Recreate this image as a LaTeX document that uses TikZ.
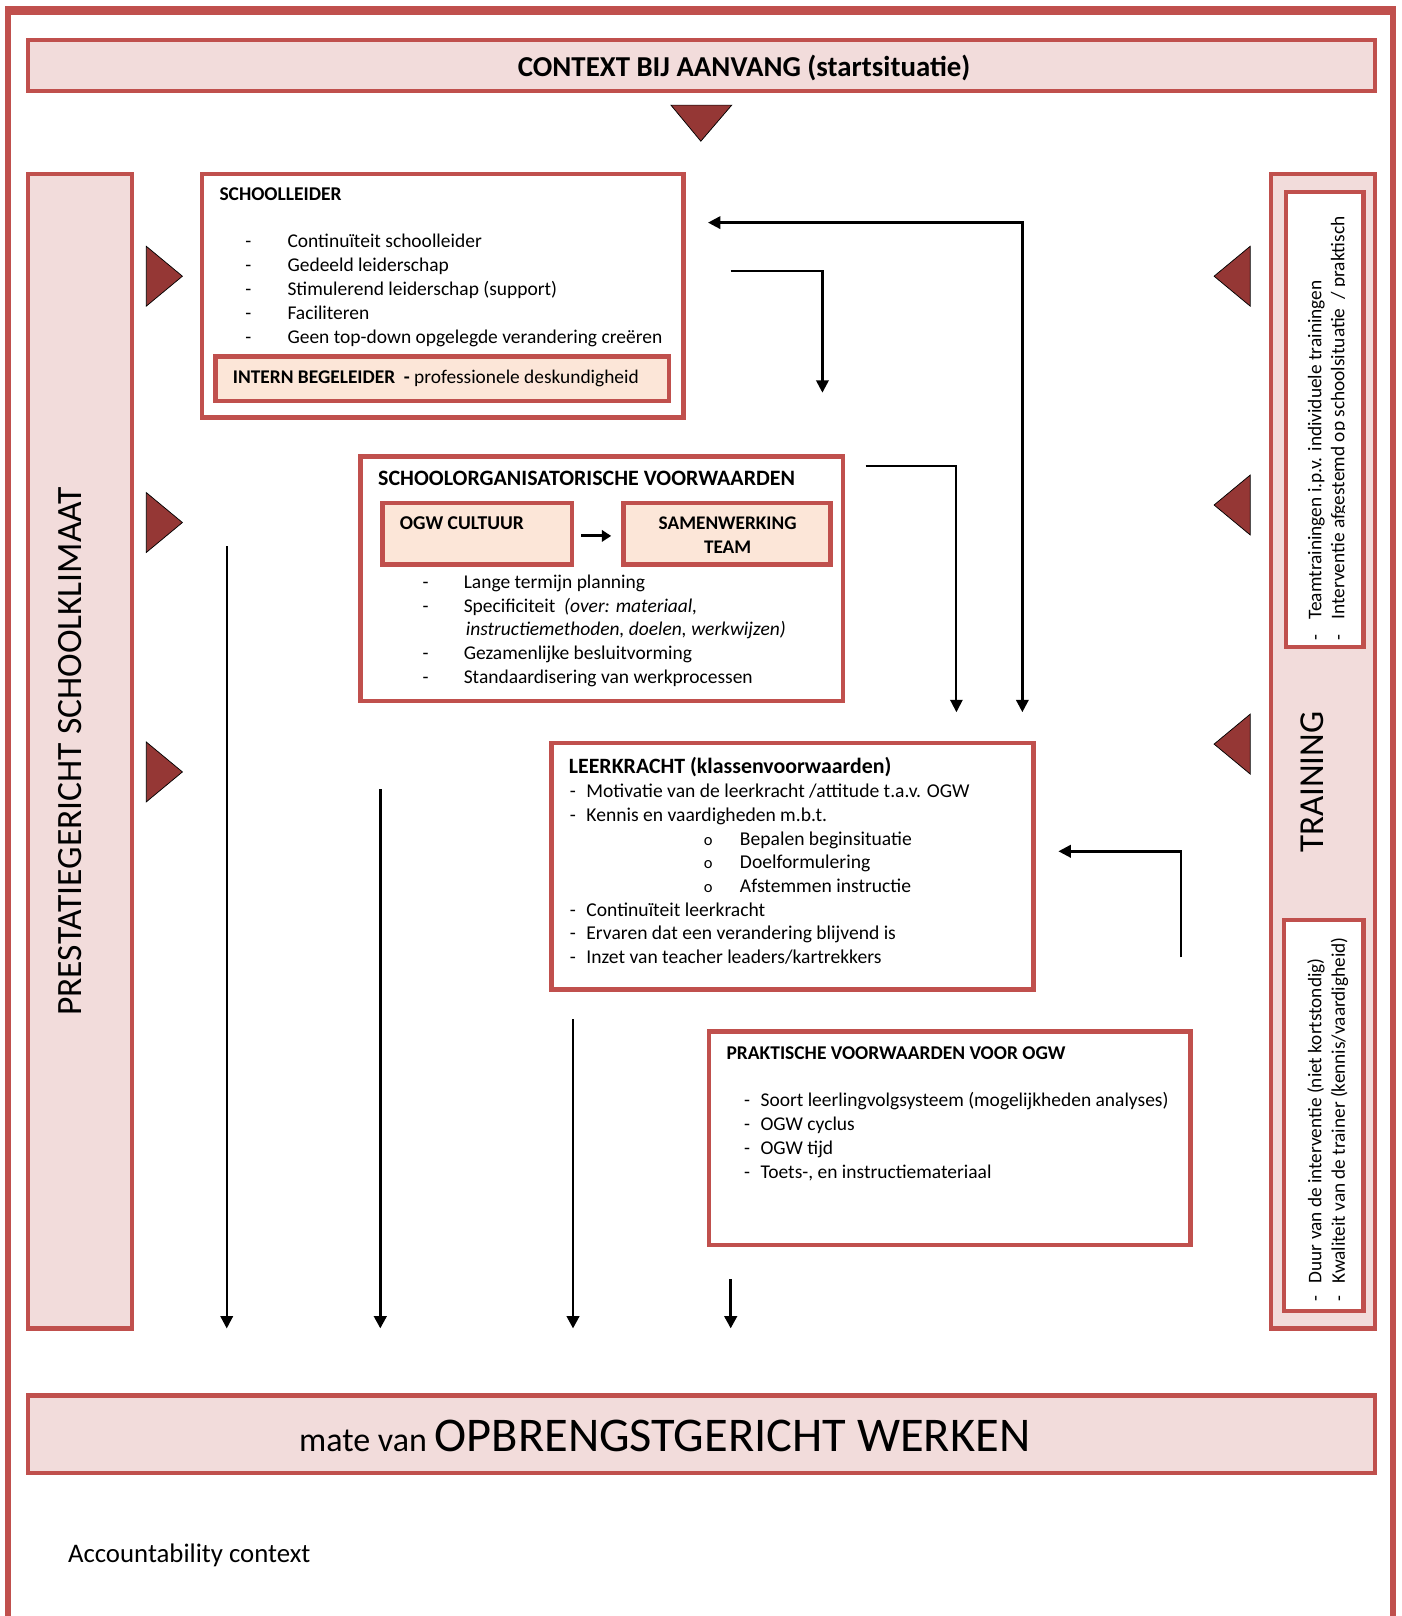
\documentclass[tikz,border=0pt]{standalone}
\usepackage{fontspec}
\setmainfont{Carlito}
\usetikzlibrary{arrows.meta}
\definecolor{bred}{HTML}{C0504D}
\definecolor{bpink}{HTML}{F2DCDB}
\definecolor{bpeach}{HTML}{FCE6D8}
\definecolor{dred}{HTML}{953735}
\newcommand{\fs}[2]{\fontsize{#1}{#2}\selectfont}
\newcommand{\dsh}[1]{\makebox[#1][l]{-}}

\begin{document}
\begin{tikzpicture}[x=1pt,y=-1pt,
  box/.style={draw=bred, line width=4.5pt, inner sep=0pt, outer sep=0pt, anchor=north west},
  whitebox/.style={box, fill=white},
  pinkbox/.style={box, fill=bpink, line width=4pt},
  peachbox/.style={box, fill=bpeach},
  txt/.style={inner sep=0pt, outer sep=0pt, anchor=base west},
  marker/.style={fill=dred, draw=black, line width=0.7pt, line join=miter},
  conn/.style={line width=2.5pt, -{Triangle[length=12pt,width=12pt]}},
]
\useasboundingbox (0,0) rectangle (1360,1568);

% outer frame
\draw[bred, line width=6pt] (8,10) rectangle (1352,1590);
\fill[bred] (5,6) rectangle (1355,15);

% header and footer bands
\node[pinkbox, minimum width=1307pt, minimum height=49pt] (ctx) at (27,39) {};
\node[txt, anchor=base, font=\fs{28}{32}\bfseries] (ctxt) at (722,74) {CONTEXT BIJ AANVANG (startsituatie)};
\draw[marker] (651,102) -- (710,102) -- (680,137) -- cycle;

\node[pinkbox, minimum width=1307pt, minimum height=75pt] (ogw) at (27,1354) {};
\node[txt, anchor=base] (ogwt) at (645,1408) {\fs{33}{36}mate van \fs{47}{50}OPBRENGSTGERICHT WERKEN};

\node[txt, font=\fs{26}{30}] (acc) at (66,1516) {Accountability context};

% side panels
\node[pinkbox, minimum width=101pt, minimum height=1120pt] (klim) at (27,169) {};
\node[txt, anchor=base, rotate=90, font=\fs{34.5}{38}] (klimt) at (79,729) {PRESTATIEGERICHT SCHOOLKLIMAAT};

\node[pinkbox, minimum width=101pt, minimum height=1120pt] (train) at (1233,169) {};
\node[whitebox, line width=4pt, minimum width=75pt, minimum height=442pt] (trtop) at (1248,186) {};
\node[whitebox, line width=4pt, minimum width=77pt, minimum height=379pt] (trbot) at (1246,893) {};
\node[txt, anchor=base, rotate=90, font=\fs{34}{38}] (traint) at (1284,759) {TRAINING};

\begin{scope}
  \clip (1240,206) rectangle (1305,630);
  \node[txt, rotate=90, font=\fs{18.8}{22}] (tr1) at (1282,621) {\dsh{20pt}Teamtrainingen i.p.v. individuele trainingen};
  \node[txt, rotate=90, font=\fs{18.8}{22}] (tr2) at (1304.5,621) {\dsh{20pt}Interventie afgestemd op schoolsituatie\ \ / praktisch};
\end{scope}
\node[txt, rotate=90, font=\fs{18.7}{22}] (tr3) at (1282,1263) {\dsh{18pt}Duur van de interventie (niet kortstondig)};
\node[txt, rotate=90, font=\fs{18.7}{22}] (tr4) at (1305,1263) {\dsh{18pt}Kwaliteit van de trainer (kennis/vaardigheid)};

% side markers
\foreach \yy in {268,507,749}
  \draw[marker] (142,\yy-29) -- (142,\yy+29) -- (177,\yy) -- cycle;
\foreach \yy in {268,490,722}
  \draw[marker] (1213,\yy-29) -- (1213,\yy+29) -- (1178,\yy) -- cycle;

% schoolleider
\node[whitebox, minimum width=467pt, minimum height=236pt] (sl) at (196,169) {};
\node[txt, font=\fs{18.9}{22}\bfseries] (slt) at (213,195) {SCHOOLLEIDER};
\node[txt, font=\fs{18.9}{23.25}] (sli) at (238,240) {\begin{tabular}[t]{@{}l@{}}
\dsh{41pt}Continuïteit schoolleider\\
\dsh{41pt}Gedeeld leiderschap\\
\dsh{41pt}Stimulerend leiderschap (support)\\
\dsh{41pt}Faciliteren\\
\dsh{41pt}Geen top-down opgelegde verandering creëren
\end{tabular}};
\node[peachbox, minimum width=440pt, minimum height=43pt] (ib) at (209,346) {};
\node[txt, font=\fs{18.8}{22}] (ibt) at (226,372) {\textbf{INTERN BEGELEIDER\ \ -} professionele deskundigheid};

% schoolorganisatorische voorwaarden
\node[whitebox, minimum width=468pt, minimum height=237pt] (so) at (350,443) {};
\node[txt, font=\fs{21.3}{25}\bfseries] (sot) at (367,471) {SCHOOLORGANISATORISCHE VOORWAARDEN};
\node[peachbox, minimum width=184pt, minimum height=60pt] (cult) at (371,488) {};
\node[txt, font=\fs{19}{23}\bfseries] (cultt) at (388,514) {OGW CULTUUR};
\node[peachbox, minimum width=201pt, minimum height=60pt] (sam) at (605,488) {};
\node[txt, anchor=base, font=\fs{18.7}{23}\bfseries] (samt) at (706,514) {\begin{tabular}[t]{@{}c@{}}SAMENWERKING\\TEAM\end{tabular}};
\draw[line width=3pt, -{Triangle[length=9pt,width=11pt]}] ([xshift=9pt,yshift=-2pt]cult.east) -- ([xshift=-12pt,yshift=-2pt]sam.west);
\node[txt, font=\fs{18.9}{23}] (soi) at (410,571) {\begin{tabular}[t]{@{}l@{}}
\dsh{40pt}Lange termijn planning\\
\dsh{40pt}Specificiteit\ \ \textit{(over: materiaal,}\\
\hspace{42pt}\textit{instructiemethoden, doelen, werkwijzen)}\\
\dsh{40pt}Gezamenlijke besluitvorming\\
\dsh{40pt}Standaardisering van werkprocessen
\end{tabular}};

% leerkracht
\node[whitebox, minimum width=468pt, minimum height=239pt] (lk) at (535,721) {};
\node[txt, font=\fs{21.2}{25}\bfseries] (lkt) at (552,751) {LEERKRACHT (klassenvoorwaarden)};
\node[txt, font=\fs{19}{23}] (lki) at (553,774) {\begin{tabular}[t]{@{}l@{}}
\dsh{16pt}Motivatie van de leerkracht /attitude t.a.v. OGW\\
\dsh{16pt}Kennis en vaardigheden m.b.t.\\
\hspace{130pt}\makebox[35pt][l]{\fs{16}{23}o}Bepalen beginsituatie\\
\hspace{130pt}\makebox[35pt][l]{\fs{16}{23}o}Doelformulering\\
\hspace{130pt}\makebox[35pt][l]{\fs{16}{23}o}Afstemmen instructie\\
\dsh{16pt}Continuïteit leerkracht\\
\dsh{16pt}Ervaren dat een verandering blijvend is\\
\dsh{16pt}Inzet van teacher leaders/kartrekkers
\end{tabular}};

% praktische voorwaarden
\node[whitebox, minimum width=467pt, minimum height=207pt] (pr) at (688,1001) {};
\node[txt, font=\fs{18.9}{22}\bfseries] (prt) at (705,1028) {PRAKTISCHE VOORWAARDEN VOOR OGW};
\node[txt, font=\fs{18.9}{23}] (pri) at (722,1074) {\begin{tabular}[t]{@{}l@{}}
\dsh{16pt}Soort leerlingvolgsysteem (mogelijkheden analyses)\\
\dsh{16pt}OGW cyclus\\
\dsh{16pt}OGW tijd\\
\dsh{16pt}Toets-, en instructiemateriaal
\end{tabular}};

% connector end points
\coordinate (aL) at (687,216);
\coordinate (aB) at (992,691);
\coordinate (bS) at (709,263);
\coordinate (bE) at (798,381);
\coordinate (cS) at (840,452);
\coordinate (cE) at (928,691);
\coordinate (dS) at (1146,929);
\coordinate (dE) at (1027,826);
\coordinate (v1s) at (220,530);
\coordinate (v1e) at (220,1289);
\coordinate (v2s) at (369,766);
\coordinate (v2e) at (369,1289);
\coordinate (v3s) at (556,989);
\coordinate (v3e) at (556,1289);
\coordinate (v4s) at (709,1241);
\coordinate (v4e) at (709,1289);

% connectors
\draw[line width=2.5pt, {Triangle[length=12pt,width=12pt]}-{Triangle[length=12pt,width=12pt]}] (aL) -| (aB);
\draw[conn] (bS) -| (bE);
\draw[conn, line width=1.8pt] (cS) -| (cE);
\draw[conn] (dS) |- (dE);
\draw[conn, line width=2.2pt] (v1s) -- (v1e);
\draw[conn, line width=3pt] (v2s) -- (v2e);
\draw[conn, line width=2.8pt] (v3s) -- (v3e);
\draw[conn, line width=3pt] (v4s) -- (v4e);
\end{tikzpicture}
\end{document}
